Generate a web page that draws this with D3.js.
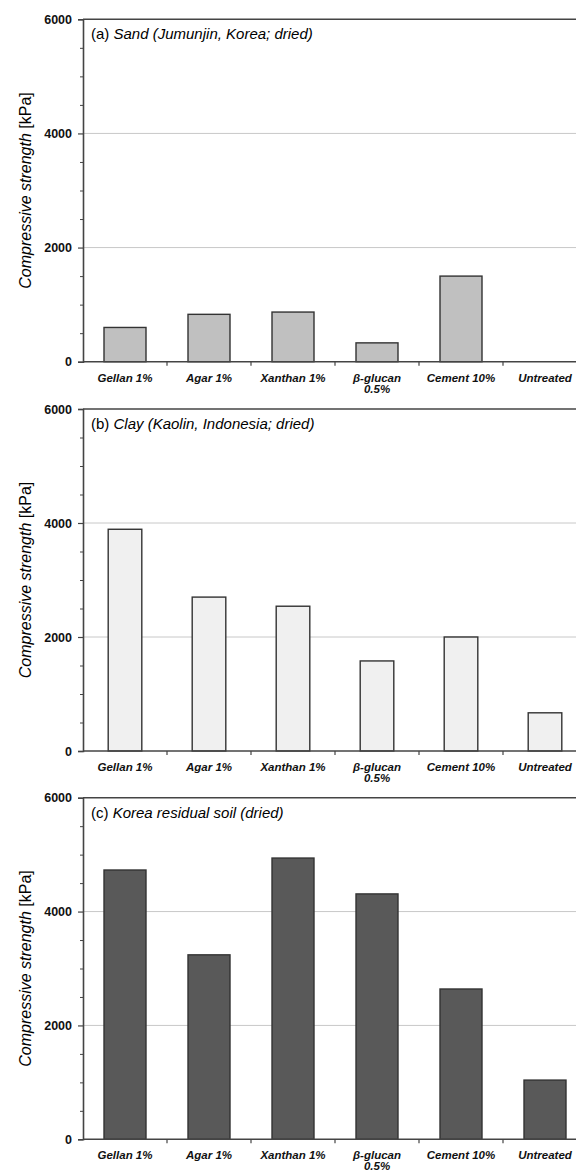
<!DOCTYPE html>
<html>
<head>
<meta charset="utf-8">
<script src="https://cdn.jsdelivr.net/npm/d3@7"></script>
<style>
  html, body { margin: 0; padding: 0; background: #fff; }
  svg { display: block; }
  text { font-family: "Liberation Sans", Arial, sans-serif; }
</style>
</head>
<body>
<svg id="chart" width="576" height="1173"></svg>
<script>
// ---- data ----
const categories = ["Gellan 1%", "Agar 1%", "Xanthan 1%", "β-glucan 0.5%", "Cement 10%", "Untreated"];
const categoryLines = [["Gellan 1%"], ["Agar 1%"], ["Xanthan 1%"], ["β-glucan", "0.5%"], ["Cement 10%"], ["Untreated"]];
const sandValues = [600, 830, 870, 330, 1500, 0];
const clayValues = [3890, 2700, 2540, 1580, 2000, 670];
const residualValues = [4730, 3240, 4940, 4310, 2640, 1040];
const yMajorTicks = [0, 2000, 4000, 6000];
const yMinorTicks = [500, 1000, 1500, 2500, 3000, 3500, 4500, 5000, 5500];
const yGridTicks = [2000, 4000];
const panelTags = ["(a)", "(b)", "(c)"];
const panelTitles = ["Sand (Jumunjin, Korea; dried)", "Clay (Kaolin, Indonesia; dried)", "Korea residual soil (dried)"];
const yTitleItalic = "Compressive strength";
const yTitleUnit = "[kPa]";

// ---- layout ----
const panels = [
  { values: sandValues, fill: "#c0c0c0", top: 19.3, bottom: 361.7, barFrac: 0.5 },
  { values: clayValues, fill: "#f0f0f0", top: 409, bottom: 751, barFrac: 0.4 },
  { values: residualValues, fill: "#595959", top: 797.7, bottom: 1139.3, barFrac: 0.5 }
];
const left = 83, right = 587;
const axisColor = "#444";

const svg = d3.select("#chart");

panels.forEach((p, i) => {
  const g = svg.append("g");
  const y = d3.scaleLinear().domain([0, 6000]).range([p.bottom, p.top]);
  const xStep = d3.scaleBand().domain(categories).range([left, right]).padding(0);
  const pad = 1 - p.barFrac;
  const xBar = d3.scaleBand().domain(categories).range([left, right]).paddingInner(pad).paddingOuter(pad / 2);

  // gridlines
  g.selectAll("line.grid").data(yGridTicks).enter().append("line")
    .attr("x1", left).attr("x2", 576)
    .attr("y1", d => y(d)).attr("y2", d => y(d))
    .attr("stroke", "#c8c8c8").attr("stroke-width", 1);

  // top frame line
  g.append("line")
    .attr("x1", left).attr("x2", 576)
    .attr("y1", y(6000)).attr("y2", y(6000))
    .attr("stroke", axisColor).attr("stroke-width", 1.6);

  // bars
  g.selectAll("rect.bar").data(p.values).enter().append("rect")
    .attr("x", (d, k) => xBar(categories[k]))
    .attr("width", xBar.bandwidth())
    .attr("y", d => y(d))
    .attr("height", d => y(0) - y(d))
    .attr("fill", p.fill)
    .attr("stroke", d => d > 0 ? "#333" : "none")
    .attr("stroke-width", 1.4);

  // y axis major
  const yAxis = d3.axisLeft(y).tickValues(yMajorTicks).tickSize(5).tickPadding(6).tickFormat(d3.format("d"));
  const ya = g.append("g").attr("transform", `translate(${left},0)`).call(yAxis);
  ya.select(".domain").attr("stroke", axisColor).attr("stroke-width", 1.6);
  ya.selectAll(".tick line").attr("stroke", axisColor).attr("stroke-width", 1.2);
  ya.selectAll(".tick text").attr("font-size", 12.5).attr("font-weight", "bold").attr("fill", "#111")
    .attr("font-family", "'Liberation Sans', Arial, sans-serif");

  // y axis minor
  const yMinor = d3.axisLeft(y).tickValues(yMinorTicks).tickSize(3).tickFormat("");
  const ym = g.append("g").attr("transform", `translate(${left},0)`).call(yMinor);
  ym.select(".domain").remove();
  ym.selectAll(".tick line").attr("stroke", axisColor).attr("stroke-width", 1);

  // x axis
  g.append("line")
    .attr("x1", left).attr("x2", 576)
    .attr("y1", y(0)).attr("y2", y(0))
    .attr("stroke", axisColor).attr("stroke-width", 1.6);
  const boundaries = categories.slice(1).map(c => xStep(c));
  g.selectAll("line.xtick").data(boundaries).enter().append("line")
    .attr("x1", d => d).attr("x2", d => d)
    .attr("y1", y(0)).attr("y2", y(0) + 4)
    .attr("stroke", axisColor).attr("stroke-width", 1.2);

  // x labels
  const lab = g.selectAll("text.xlab").data(categoryLines).enter().append("text")
    .attr("x", (d, k) => xStep(categories[k]) + xStep.bandwidth() / 2)
    .attr("y", y(0) + 20)
    .attr("text-anchor", "middle")
    .attr("font-size", 11.5).attr("font-weight", "bold").attr("font-style", "italic").attr("fill", "#111");
  lab.each(function(d) {
    const t = d3.select(this);
    d.forEach((line, j) => {
      t.append("tspan").attr("x", t.attr("x")).attr("dy", j === 0 ? 0 : 11).text(line);
    });
  });

  // panel title
  const title = g.append("text")
    .attr("x", 91).attr("y", y(6000) + 20)
    .attr("font-size", 15).attr("fill", "#000");
  title.append("tspan").text(panelTags[i] + " ");
  title.append("tspan").attr("font-style", "italic").text(panelTitles[i]);

  // y title
  const cy = (p.top + p.bottom) / 2;
  const yt = g.append("text")
    .attr("transform", `translate(31,${cy}) rotate(-90)`)
    .attr("text-anchor", "middle")
    .attr("font-size", 16).attr("fill", "#000");
  yt.append("tspan").attr("font-style", "italic").text(yTitleItalic + " ");
  yt.append("tspan").text(yTitleUnit);
});
</script>
</body>
</html>
